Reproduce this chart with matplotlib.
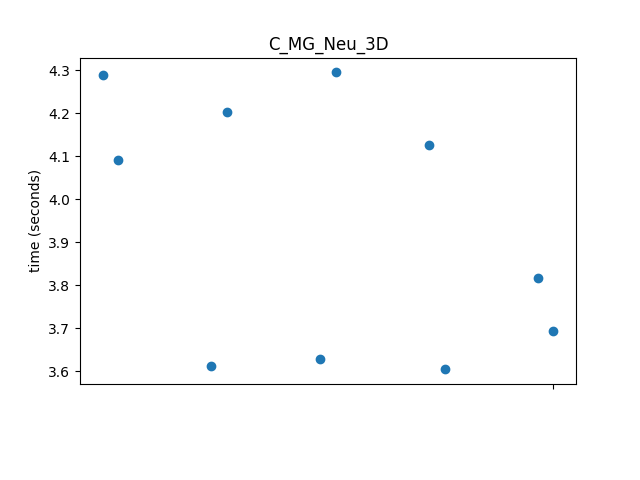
import matplotlib
matplotlib.use("Agg")
import matplotlib.pyplot as plt

x_vals = [0, 0.143, 1, 1.143, 2, 2.143, 3, 3.143, 4, 4.143]
times = [4.289, 4.091, 3.612, 4.203, 3.628, 4.295, 4.126, 3.605, 3.817, 3.694]
title = "C_MG_Neu_3D"
ylabel = "time (seconds)"

fig, ax = plt.subplots(figsize=(6.4, 4.8), dpi=100)
fig.subplots_adjust(bottom=0.2)
ax.scatter(x_vals, times)
ax.set_title(title)
ax.set_ylabel(ylabel)
ax.set_xticks([x_vals[-1]])
ax.set_xticklabels([""])
fig.savefig("out.png")
